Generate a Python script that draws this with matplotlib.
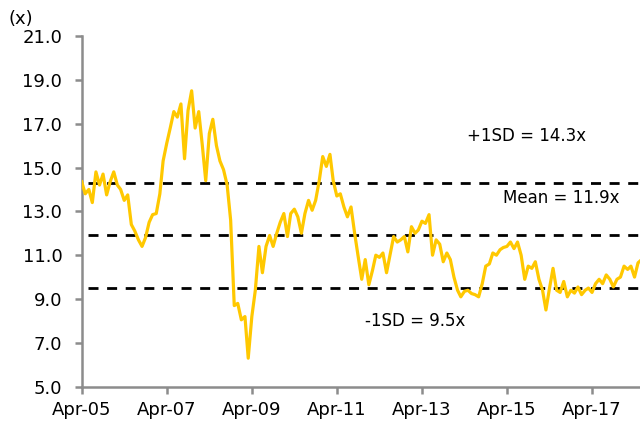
import matplotlib
matplotlib.use("Agg")
import matplotlib.pyplot as plt
import pandas as pd

# Monthly P/E multiple, starting Apr-2005
pe_values = [
    14.35, 13.8, 14.0, 13.4, 14.8, 14.2, 14.7, 13.75, 14.35, 14.8,
    14.2, 14.0, 13.5, 13.75, 12.4, 12.1, 11.7, 11.4, 11.8, 12.5,
    12.85, 12.9, 13.8, 15.3, 16.1, 16.8, 17.55, 17.3, 17.9, 15.4,
    17.6, 18.5, 16.8, 17.55, 16.0, 14.4, 16.55, 17.2, 16.0, 15.3,
    14.9, 14.2, 12.6, 8.7, 8.8, 8.05, 8.2, 6.3, 8.2, 9.4,
    11.4, 10.2, 11.4, 11.9, 11.4, 12.0, 12.5, 12.9, 11.85, 12.9,
    13.1, 12.75, 12.0, 12.9, 13.5, 13.05, 13.5, 14.4, 15.5, 15.05,
    15.6, 14.4, 13.7, 13.8, 13.2, 12.75, 13.2, 12.0, 10.95, 9.9,
    10.8, 9.65, 10.3, 11.0, 10.9, 11.1, 10.2, 11.0, 11.85, 11.6,
    11.7, 11.85, 11.15, 12.3, 12.0, 12.15, 12.55, 12.45, 12.85, 11.0,
    11.7, 11.5, 10.7, 11.1, 10.8, 10.0, 9.4, 9.1, 9.35, 9.4,
    9.25, 9.2, 9.1, 9.7, 10.5, 10.6, 11.1, 11.0, 11.25, 11.35,
    11.4, 11.6, 11.3, 11.6, 11.0, 9.9, 10.5, 10.4, 10.7, 9.9,
    9.4, 8.5, 9.5, 10.4, 9.4, 9.3, 9.8, 9.1, 9.4, 9.27,
    9.55, 9.2, 9.4, 9.5, 9.3, 9.7, 9.9, 9.7, 10.1, 9.9,
    9.55, 9.9, 10.0, 10.5, 10.35, 10.5, 10.0, 10.65, 10.8,
]
start_date = "2005-04-01"
mean_val = 11.9
plus_sd = 14.3
minus_sd = 9.5
y_ticks = [5.0, 7.0, 9.0, 11.0, 13.0, 15.0, 17.0, 19.0, 21.0]
x_tick_labels = ["Apr-05", "Apr-07", "Apr-09", "Apr-11", "Apr-13", "Apr-15", "Apr-17"]

dates = pd.date_range(start_date, periods=len(pe_values), freq="MS")

plt.rcParams["font.family"] = ["DejaVu Sans"]
fig = plt.figure(figsize=(6.4, 4.3), dpi=100)
ax = fig.add_axes([0.1277, 0.1007, 0.8723, 0.8156])

ax.plot(dates, pe_values, color="#FFC800", lw=2.3, solid_joinstyle="round", zorder=3)

for lvl in (plus_sd, mean_val, minus_sd):
    ax.axhline(lvl, xmin=0.012, xmax=1.0, color="black", lw=2.0,
               linestyle=(0, (3.6, 3.1)), zorder=2)

ax.set_ylim(5, 21)
ax.set_yticks(y_ticks)
ax.set_yticklabels([f"{v:.1f}" for v in y_ticks])

tick_dates = [pd.Timestamp(f"20{lbl[-2:]}-04-01") for lbl in x_tick_labels]
ax.set_xticks(tick_dates)
ax.set_xticklabels(x_tick_labels)
ax.set_xlim(pd.Timestamp(start_date), pd.Timestamp("2018-05-18"))

for s in ("top", "right"):
    ax.spines[s].set_visible(False)
for s in ("left", "bottom"):
    ax.spines[s].set_color("#8c8c8c")
    ax.spines[s].set_linewidth(1.8)

ax.tick_params(axis="both", colors="#8c8c8c", length=5, width=1.8, labelsize=13,
               labelcolor="black")
ax.tick_params(axis="y", pad=9)
ax.tick_params(axis="x", pad=5)

ax.text(0.69, 0.716, "+1SD = 14.3x", transform=ax.transAxes, fontsize=12,
        ha="left", va="center")
ax.text(0.755, 0.539, "Mean = 11.9x", transform=ax.transAxes, fontsize=12,
        ha="left", va="center")
ax.text(0.507, 0.188, "-1SD = 9.5x", transform=ax.transAxes, fontsize=12,
        ha="left", va="center")
fig.text(9 / 640, 1 - 19 / 430, "(x)", fontsize=13, ha="left", va="center")

fig.savefig("out.png", dpi=100)
